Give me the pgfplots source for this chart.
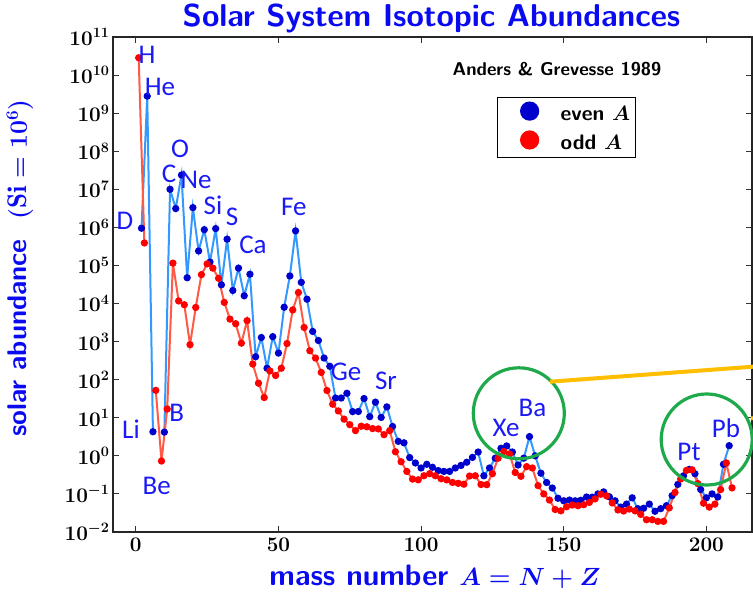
\documentclass[border=0pt]{standalone}
\usepackage{pgfplots}
\usepackage{pgfplotstable}
\pgfplotsset{compat=1.18}
\usepackage{fontspec}
\newfontfamily\labfont{Carlito}
\definecolor{evenline}{HTML}{3399FF}
\definecolor{evenmark}{HTML}{0000CC}
\definecolor{oddline}{HTML}{FF5A45}
\definecolor{oddmark}{HTML}{FF0000}
\definecolor{ttl}{HTML}{0A0AF0}
\definecolor{lab}{HTML}{1A1AF5}
\definecolor{circ}{HTML}{1EAA4B}
\definecolor{gold}{HTML}{FFBF00}

\pgfplotstableread{
A v
2 9.5e5
4 2.8e9
6 4.3
8 nan
10 4.2
12 1.0e7
14 3.12e6
16 2.37e7
18 4.76e4
20 3.3e6
22 2.4e5
24 8.7e5
26 1.23e5
28 9.3e5
30 3.1e4
32 4.9e5
34 2.2e4
36 8.5e4
38 1.6e4
40 5.9e4
42 400
44 1280
46 200
48 1350
50 500
52 8000
54 5.3e4
56 8.1e5
58 3.6e4
60 1.3e4
62 1850
64 1070
66 370
68 225
70 33
72 33
74 44
76 14.5
78 14.6
80 32
82 10.7
84 25.7
86 10.2
88 19.3
90 5.9
92 2.4
94 2.2
96 0.9
98 0.65
100 0.48
102 0.6
104 0.5
106 0.41
108 0.39
110 0.39
112 0.48
114 0.56
116 0.68
118 0.91
120 1.26
122 0.3
124 0.48
126 0.87
128 1.58
130 1.82
132 1.26
134 0.575
136 0.87
138 3.2
140 1.0
142 0.35
144 0.2
146 0.143
148 0.077
150 0.066
152 0.069
154 0.066
156 0.068
158 0.083
160 0.082
162 0.1
164 0.113
166 0.084
168 0.066
170 0.045
172 0.054
174 0.079
176 0.041
178 0.042
180 0.054
182 0.035
184 0.041
186 0.049
188 0.09
190 0.178
192 0.3
194 0.44
196 0.34
198 0.131
200 0.079
202 0.10
204 0.083
206 0.60
208 1.85
}\evenA

\pgfplotstableread{
A v
1 2.85e10
3 3.9e5
5 nan
7 52.5
9 0.73
11 17
13 1.15e5
15 1.17e4
17 9.3e3
19 830
21 7.9e3
23 5.75e4
25 1.1e5
27 8.5e4
29 4.6e4
31 1.07e4
33 3.9e3
35 2.95e3
37 910
39 3.55e3
41 257
43 81
45 34
47 170
49 129
51 200
53 890
55 6.8e3
57 1.95e4
59 2350
61 575
63 370
65 155
67 52
69 22.7
71 15.1
73 9.2
75 6.6
77 4.6
79 6.0
81 5.8
83 5.2
85 5.1
87 3.6
89 4.6
91 1.28
93 0.70
95 0.39
97 0.245
99 0.235
101 0.30
103 0.34
105 0.30
107 0.25
109 0.234
111 0.20
113 0.19
115 0.18
117 0.295
119 0.30
121 0.177
123 0.175
125 0.34
127 0.87
129 1.3
131 1.12
133 0.365
135 0.29
137 0.52
139 0.48
141 0.165
143 0.10
145 0.069
147 0.039
149 0.036
151 0.046
153 0.051
155 0.049
157 0.052
159 0.060
161 0.074
163 0.098
165 0.089
167 0.058
169 0.038
171 0.0355
173 0.040
175 0.036
177 0.029
179 0.021
181 0.021
183 0.019
185 0.019
187 0.043
189 0.109
191 0.247
193 0.414
195 0.43
197 0.187
199 0.057
201 0.045
203 0.054
205 0.13
207 0.65
209 0.144
}\oddA

\begin{document}
\begin{tikzpicture}[x=1pt,y=1pt]
\useasboundingbox (0,0) rectangle (753,592);
\begin{axis}[
  at={(113pt,60pt)}, anchor=south west,
  scale only axis, width=639pt, height=495pt,
  xmin=-8, xmax=216,
  ymode=log, ymin=1e-2, ymax=1e11,
  xtick={0,50,100,150,200},
  ytick={1e-2,1e-1,1,1e1,1e2,1e3,1e4,1e5,1e6,1e7,1e8,1e9,1e10,1e11},
  yminorticks=false,
  major tick length=6pt,
  tick style={line width=1pt, black!80},
  axis line style={line width=1.4pt, black!85},
  tick label style={font=\fontsize{20}{22}\selectfont\boldmath},
  xticklabel style={yshift=-3pt},
  unbounded coords=jump,
  legend style={at={(0.601,0.879)}, anchor=north west, draw=black, line width=1.2pt,
    font=\sffamily\bfseries\boldmath\fontsize{21}{23}\selectfont,
    inner xsep=3pt, inner ysep=4pt, row sep=6pt,
    /tikz/every odd column/.append style={column sep=0pt}},
  legend cell align=left,
  legend image code/.code={\path[draw=none,fill=none] (0pt,0pt) -- (58pt,0pt); \fill[#1] (29pt,0.12cm) circle (9pt);},
]
\addplot[evenline, line width=2pt, mark=*, mark size=2.6pt,
  mark options={draw=evenmark, fill=evenmark}, forget plot] table[x=A,y=v] {\evenA};
\addplot[oddline, line width=2pt, mark=*, mark size=2.6pt,
  mark options={draw=oddmark, fill=oddmark}, forget plot] table[x=A,y=v] {\oddA};
\addlegendimage{color=evenmark}
\addlegendentry{even $A$}
\addlegendimage{color=oddmark}
\addlegendentry{odd $A$}
\end{axis}
% title and axis labels
\node[text=ttl, font=\sffamily\bfseries\fontsize{31.6}{33}\selectfont] at (431.5,573.5) {Solar System Isotopic Abundances};
\node[text=ttl, font=\sffamily\bfseries\boldmath\fontsize{29.5}{31}\selectfont] at (435,15) {mass number $A=N+Z$};
\node[text=ttl, rotate=90, font=\sffamily\bfseries\boldmath\fontsize{27}{29}\selectfont] at (20,324) {solar abundance\ \ $(\mathrm{Si}=10^6)$};
\node[font=\sffamily\bfseries\fontsize{18.5}{20}\selectfont] at (557,523) {Anders \& Grevesse 1989};
% element labels
\begin{scope}[every node/.style={text=lab, font=\labfont\fontsize{27}{28}\selectfont, inner sep=0pt}]
\node at (147,537.3) {H};
\node at (160,505) {He};
\node at (125,371) {D};
\node at (131,163) {Li};
\node at (156.7,106) {Be};
\node at (176.7,179) {B};
\node at (169,418) {C};
\node at (180,443) {O};
\node at (196,412) {Ne};
\node at (213,386.5) {Si};
\node at (232,375.3) {S};
\node at (253,347) {Ca};
\node at (293.8,385.3) {Fe};
\node at (346,220) {Ge};
\node at (386,211) {Sr};
\node at (506,164) {Xe};
\node at (532.5,184) {Ba};
\node at (689,140) {Pt};
\node at (726,164) {Pb};
\end{scope}
% annotations
\draw[circ, line width=3.2pt] (518.8,178.7) circle (45.5);
\draw[circ, line width=3.2pt] (706.7,152.5) circle (45.5);
\draw[gold, line width=4pt] (550,210.3) -- (753,225.3);
\draw[gold, line width=4pt] (751,173.5) -- (753,174);
\end{tikzpicture}
\end{document}
